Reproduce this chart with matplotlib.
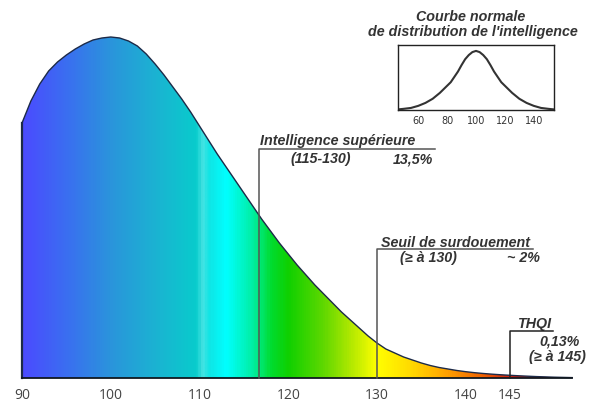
import numpy as np
import matplotlib
matplotlib.use("Agg")
import matplotlib.pyplot as plt
from matplotlib.colors import LinearSegmentedColormap
from matplotlib.patches import Polygon

## ---------------------------------
## Daten
## ---------------------------------

# grosse Kurve: QI und Hoehe (Pixel ueber der Grundlinie)
qi = list(range(90, 153))
hauteur = [255, 277, 294, 307, 316, 323, 329, 334, 338, 340,
           341, 340, 337, 332, 324, 314, 303, 291, 279, 266,
           252, 238, 224, 211, 198, 185, 172, 159, 147, 135,
           124, 113, 103, 93, 84, 75, 66, 58, 50, 42,
           35, 29, 25, 21, 18, 15, 12.5, 10.5, 9, 7.5,
           6.3, 5.3, 4.5, 3.8, 3.2, 2.7, 2.2, 1.8, 1.4, 1.1,
           0.8, 0.6, 0.4]

ticks = [90, 100, 110, 120, 130, 140, 145]

# kleine Kurve (Einschub)
qi_petit = [46, 50, 55, 60, 65, 70, 75, 80, 82.5, 85, 87.5, 90, 92.5, 95, 97.5, 100,
            102.5, 105, 107.5, 110, 112.5, 115, 117.5, 120, 125, 130, 135, 140, 145, 150, 154]
dens_petit = [0.01, 0.02, 0.035, 0.07, 0.12, 0.19, 0.29, 0.41, 0.47, 0.56, 0.65, 0.76, 0.86, 0.93, 0.98, 1.0,
              0.98, 0.93, 0.86, 0.76, 0.65, 0.56, 0.47, 0.41, 0.29, 0.19, 0.12, 0.07, 0.035, 0.02, 0.01]
ticks_petit = [60, 80, 100, 120, 140]

# Farbverlauf entlang der x-Achse
stops = [(90, "#4b4bff"), (95, "#3a6ff0"), (100, "#2a95db"), (105, "#1bb3d2"),
         (109.6, "#08cccc"), (110.3, "#48e4e4"), (111, "#10e4e4"), (113, "#00ffff"),
         (116, "#00eea0"), (118, "#00dc30"), (120, "#10d000"), (124, "#60d800"),
         (127, "#b0e800"), (130, "#ffff00"), (134, "#ffd800"), (138, "#ffa000"),
         (142, "#f06000"), (145, "#d02010"), (152, "#a00000")]

## ---------------------------------
## Figur
## ---------------------------------

fig = plt.figure(figsize=(6, 4.15), dpi=100)
ax = fig.add_axes([0, 0, 1, 1])
ax.set_xlim(87.52, 155.13)
ax.set_ylim(-37, 378)
ax.axis("off")

x0, x1 = qi[0], qi[-1]
cmap = LinearSegmentedColormap.from_list(
    "qi", [((v - x0) / (x1 - x0), c) for v, c in stops])
grad = np.linspace(0, 1, 600).reshape(1, -1)
img = ax.imshow(grad, cmap=cmap, aspect="auto", extent=[x0, x1, 0, max(hauteur)],
                origin="lower", zorder=1)
poly = Polygon(list(zip(qi, hauteur)) + [(x1, 0), (x0, 0)], closed=True,
               facecolor="none", edgecolor="none")
ax.add_patch(poly)
img.set_clip_path(poly)

ax.plot(qi, hauteur, color="#1c2a48", lw=1.0, zorder=3)
ax.plot([x0, x0], [0, hauteur[0]], color="#1c2a48", lw=1.6, zorder=3)
ax.plot([x0, x1], [0, 0], color="#101820", lw=1.3, zorder=3)

for t in ticks:
    ax.text(t, -17, str(t), ha="center", va="center", fontsize=10,
            family="Open Sans", color="#444444")

## Beschriftungen
gris = "#555555"
txt = dict(family="Liberation Sans", style="italic", weight="bold",
           fontsize=10.3, color="#333333")

ax.plot([116.7, 116.7, 136.5], [0, 229, 229], color=gris, lw=1.1, zorder=4)
ax.text(116.8, 233, "Intelligence supérieure", ha="left", va="baseline", **txt)
ax.text(120.2, 215, "(115-130)", ha="left", va="baseline", **txt)
ax.text(136.3, 215, "13,5%", ha="right", va="baseline", **txt)

ax.plot([130, 130, 147.6], [0, 129, 129], color=gris, lw=1.1, zorder=4)
ax.text(130.4, 131, "Seuil de surdouement", ha="left", va="baseline", **txt)
ax.text(132.6, 116, "(≥ à 130)", ha="left", va="baseline", **txt)
ax.text(148.4, 116, "~ 2%", ha="right", va="baseline", **txt)

ax.plot([145, 145, 149.8], [0, 47, 47], color="#222222", lw=1.1, zorder=4)
ax.text(145.9, 50, "THQI", ha="left", va="baseline", **txt)
ax.text(152.8, 33, "0,13%", ha="right", va="baseline", **txt)
ax.text(153.5, 17, "(≥ à 145)", ha="right", va="baseline", **txt)

ax.text(140.5, 357, "Courbe normale", ha="center", va="baseline", **txt)
ax.text(140.8, 342, "de distribution de l'intelligence", ha="center", va="baseline", **txt)

## Einschub
axi = fig.add_axes([398 / 600, 1 - 110 / 415, 156 / 600, 65 / 415])
axi.plot(qi_petit, dens_petit, color="#333333", lw=1.5)
axi.set_xlim(46, 154)
axi.set_ylim(0, 1.1)
axi.set_yticks([])
axi.set_xticks(ticks_petit)
axi.tick_params(axis="x", length=0, pad=4, labelsize=7, labelcolor="#333333")
for s in axi.spines.values():
    s.set_color("#222222")
    s.set_linewidth(1.0)

fig.savefig("out.png", dpi=100)
